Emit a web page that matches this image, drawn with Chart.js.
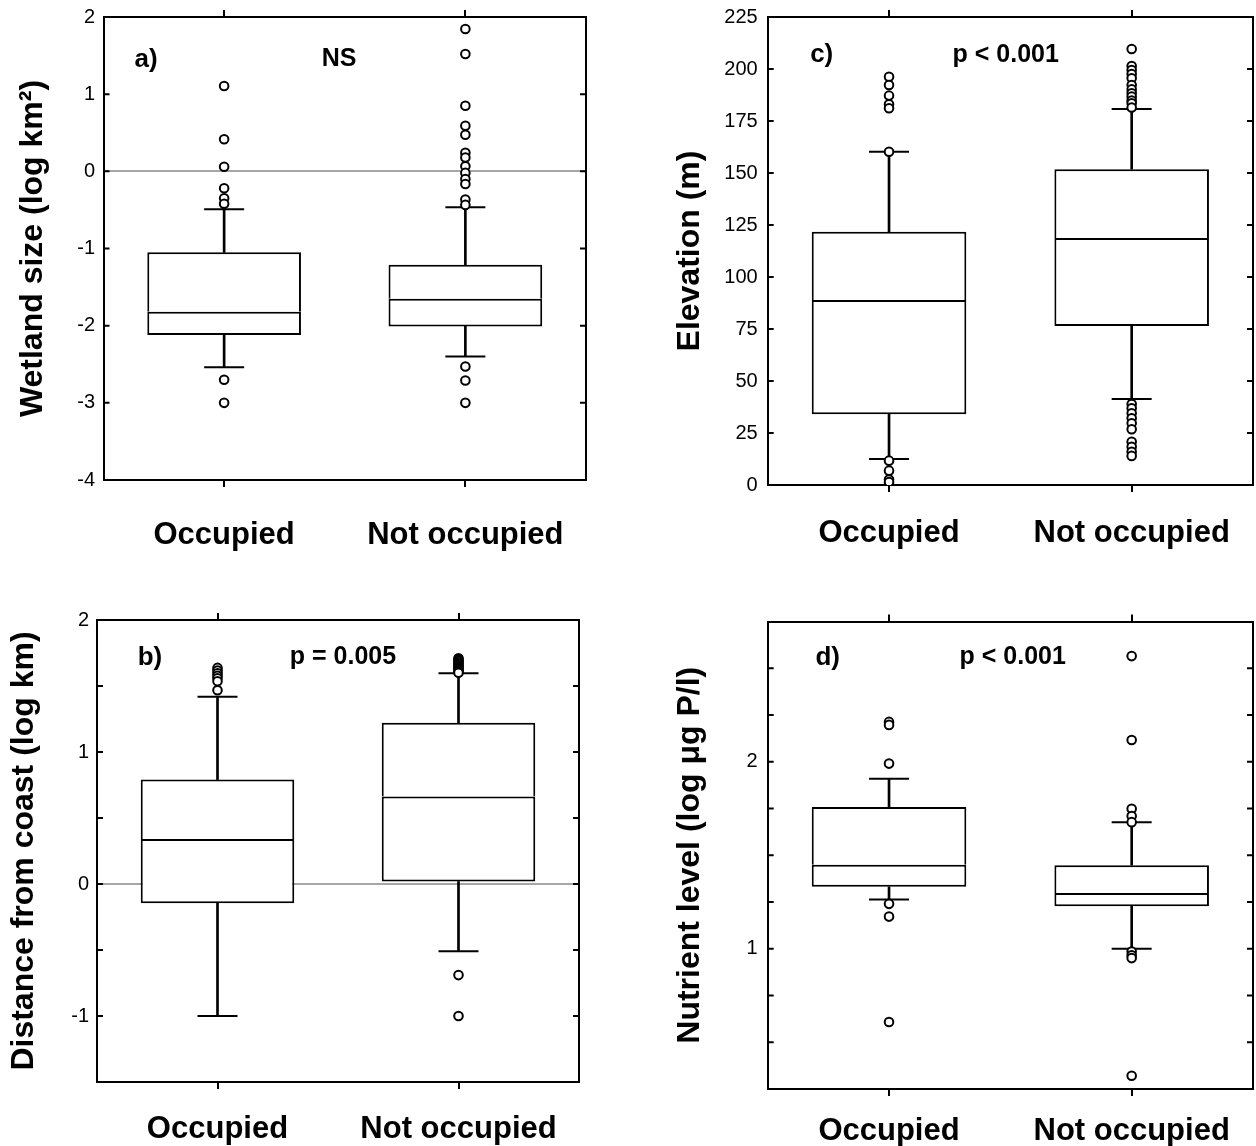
<!DOCTYPE html>
<html>
<head>
<meta charset="utf-8">
<script src="https://cdn.jsdelivr.net/npm/chart.js@4.4.0/dist/chart.umd.min.js"></script>
<style>
  html, body { margin: 0; padding: 0; background: #fff; }
  body { width: 1256px; height: 1146px; position: relative; overflow: hidden; }
  .p { position: absolute; }
  canvas { display: block; }
</style>
</head>
<body>
<div class="p" style="left:0;top:0;width:620px;height:580px"><canvas id="ca" width="620" height="580"></canvas></div>
<div class="p" style="left:640px;top:0;width:616px;height:580px"><canvas id="cc" width="616" height="580"></canvas></div>
<div class="p" style="left:0;top:580px;width:620px;height:566px"><canvas id="cb" width="620" height="566"></canvas></div>
<div class="p" style="left:640px;top:580px;width:616px;height:566px"><canvas id="cd" width="616" height="566"></canvas></div>
<script>
// ---------------- DATA ----------------
const categories = ['Occupied', 'Not occupied'];

// a) Wetland size (log km²)
const wetlandLow = [-2.54, -2.40];
const wetlandQ1 = [-2.12, -2.01];
const wetlandMedian = [-1.82, -1.65];
const wetlandQ3 = [-1.05, -1.21];
const wetlandHigh = [-0.49, -0.465];
const wetlandOutOccupied = [1.105, 0.415, 0.06, -0.22, -0.35, -0.42, -2.70, -3.00];
const wetlandOutNotOccupied = [1.845, 1.52, 0.85, 0.59, 0.475, 0.24, 0.18, 0.065, -0.02, -0.10, -0.165, -0.365, -0.435, -2.53, -2.71, -3.00];
const wetlandRange = [-4, 2, 1];
const wetlandTickLabels = ['-4', '-3', '-2', '-1', '0', '1', '2'];

// c) Elevation (m)
const elevLow = [12.5, 41.4];
const elevQ1 = [34.0, 76.4];
const elevMedian = [88.9, 118.8];
const elevQ3 = [121.7, 151.8];
const elevHigh = [160.2, 180.8];
const elevOutOccupied = [196.3, 192.3, 187.2, 183.0, 181.1, 160.2, 11.7, 6.9, 2.6, 1.4];
const elevOutNotOccupied = [209.6, 201.4, 199.5, 197.6, 195.5, 192.3, 190.2, 188.3, 186.7, 184.8, 183.5, 181.5,
  38.9, 36.9, 34.5, 32.1, 29.7, 26.8, 20.8, 18.4, 16.0, 14.0];
const elevRange = [0, 225, 25];
const elevTickLabels = ['0', '25', '50', '75', '100', '125', '150', '175', '200', '225'];

// b) Distance from coast (log km)
const coastLow = [-1.0, -0.51];
const coastQ1 = [-0.145, 0.019];
const coastMedian = [0.341, 0.663];
const coastQ3 = [0.791, 1.222];
const coastHigh = [1.419, 1.596];
const coastOutOccupied = [1.637, 1.617, 1.596, 1.577, 1.558, 1.536, 1.468];
const coastOutNotOccupied = [1.71, 1.70, 1.69, 1.68, 1.67, 1.66, 1.65, 1.64, 1.63, 1.62, 1.61, 1.60, -0.69, -1.0];
const coastRange = [-1.5, 2, 0.5];
const coastTickLabels = ['-1', '0', '1', '2'];

// d) Nutrient level (log µg P/l)
const nutLow = [1.263, 1.0];
const nutQ1 = [1.331, 1.227];
const nutMedian = [1.449, 1.298];
const nutQ3 = [1.758, 1.447];
const nutHigh = [1.909, 1.677];
const nutOutOccupied = [2.213, 2.197, 1.99, 1.24, 1.172, 0.608];
const nutOutNotOccupied = [2.565, 2.116, 1.749, 1.71, 1.677, 0.985, 0.965, 0.95, 0.321];
const nutRange = [0.25, 2.75, 0.25];
const nutTickLabels = ['1', '2'];

// ---------------- STYLE / LAYOUT ----------------
const FONT = "'Liberation Sans', Arial, Helvetica, sans-serif";
Chart.defaults.font.family = FONT;
Chart.defaults.color = '#000';

const framePlugin = {
  id: 'frameTicks',
  afterDraw(chart, args, opts) {
    const { ctx, chartArea: a } = chart;
    const y = chart.scales.y;
    ctx.save();
    ctx.strokeStyle = '#000';
    ctx.lineWidth = 2;
    y.ticks.forEach(t => {
      const py = y.getPixelForValue(t.value);
      if (py <= a.top + 2 || py >= a.bottom - 2) return;
      ctx.beginPath();
      ctx.moveTo(a.left, py); ctx.lineTo(a.left + 6, py);
      ctx.moveTo(a.right - 6, py); ctx.lineTo(a.right, py);
      ctx.stroke();
    });
    ctx.fillStyle = '#000';
    ctx.textAlign = 'center';
    ctx.textBaseline = 'middle';
    (opts.notes || []).forEach(n => {
      ctx.font = 'bold ' + n.size + 'px ' + FONT;
      ctx.fillText(n.text, a.left + n.dx, a.top + n.dy);
    });
    ctx.restore();
  }
};

function fmt(v) { return String(Number(v.toFixed(3))); }

function makePanel(canvasId, layout, d) {
  const [L, T, R, B] = layout.area;
  const canvas = document.getElementById(canvasId);
  const W = canvas.width, H = canvas.height;
  const caps = categories.flatMap((c, i) => [{ x: c, y: d.low[i] }, { x: c, y: d.high[i] }]);
  const outliers = [
    ...d.outOcc.map(v => ({ x: categories[0], y: v })),
    ...d.outNot.map(v => ({ x: categories[1], y: v }))
  ];
  const boxCommon = {
    type: 'bar', grouped: false, backgroundColor: '#fff', borderColor: '#000',
    borderSkipped: false, barPercentage: 0.637, categoryPercentage: 1, order: 3
  };
  const whiskerCommon = {
    type: 'bar', grouped: false, backgroundColor: '#000', borderWidth: 0, barThickness: 2, order: 4
  };
  const fixW = w => s => { s.width = w; s.paddingLeft = s.paddingRight = s.paddingTop = s.paddingBottom = 0; };
  const fixH = h => s => { s.height = h; s.paddingLeft = s.paddingRight = s.paddingTop = s.paddingBottom = 0; };
  const yRangeOpts = { min: d.range[0], max: d.range[1] };

  new Chart(canvas, {
    type: 'bar',
    data: {
      labels: categories,
      datasets: [
        Object.assign({}, whiskerCommon, { data: categories.map((c, i) => [d.low[i], d.q1[i]]) }),
        Object.assign({}, whiskerCommon, { data: categories.map((c, i) => [d.q3[i], d.high[i]]) }),
        Object.assign({}, boxCommon, { data: categories.map((c, i) => [d.q1[i], d.med[i]]),
          borderWidth: { top: 2, bottom: 2, left: 2, right: 2 } }),
        Object.assign({}, boxCommon, { data: categories.map((c, i) => [d.med[i], d.q3[i]]),
          borderWidth: { top: 2, bottom: 0, left: 2, right: 2 } }),
        { type: 'line', data: caps, showLine: false, pointStyle: 'line', pointRadius: 20,
          pointHoverRadius: 20, pointBorderColor: '#000', pointBorderWidth: 2, order: 2 },
        { type: 'line', data: outliers, showLine: false, pointStyle: 'circle', pointRadius: 4.3,
          pointHoverRadius: 4.3, pointBackgroundColor: '#fff', pointBorderColor: '#000',
          pointBorderWidth: 2, order: 1 }
      ]
    },
    options: {
      responsive: false,
      animation: false,
      events: [],
      layout: { autoPadding: false, padding: { left: 0, top: T, right: W - R, bottom: 0 } },
      plugins: {
        legend: { display: false },
        tooltip: { enabled: false },
        frameTicks: { notes: layout.notes }
      },
      scales: {
        x: {
          type: 'category', position: 'bottom', offset: true,
          grid: { drawOnChartArea: false, offset: false, tickLength: 7, color: '#000', lineWidth: 2 },
          border: { display: true, color: '#000', width: 2 },
          ticks: { font: { size: 31, weight: 'bold' }, padding: layout.xPad, maxRotation: 0, autoSkip: false, color: '#000' },
          afterFit: fixH(H - B)
        },
        x2: {
          type: 'category', position: 'top', offset: true, labels: categories,
          grid: { drawOnChartArea: false, offset: false, tickLength: 7, color: '#000', lineWidth: 2 },
          border: { display: true, color: '#000', width: 2 },
          ticks: { display: false },
          afterFit: fixH(0)
        },
        y: Object.assign({
          type: 'linear', position: 'left',
          grid: {
            drawTicks: false,
            display: !!layout.zeroLine,
            lineWidth: 2,
            color: c => (c.tick && Math.abs(c.tick.value) < 1e-9) ? '#a6a6a6' : 'rgba(0,0,0,0)'
          },
          border: { display: true, color: '#000', width: 2 },
          ticks: {
            stepSize: d.range[2], padding: layout.yPad, color: '#000',
            font: { size: 20 },
            callback: v => { const s = fmt(v); return d.tickLabels.includes(s) ? s : ''; }
          },
          title: {
            display: true, text: d.title, color: '#000',
            font: { size: 32, weight: 'bold', lineHeight: 1.2 },
            padding: { top: layout.titlePad, bottom: 0 }
          },
          afterFit: fixW(L)
        }, yRangeOpts),
        y2: Object.assign({
          type: 'linear', position: 'right',
          grid: { display: false, drawTicks: false },
          border: { display: true, color: '#000', width: 2 },
          ticks: { display: false, stepSize: d.range[2] },
          afterFit: fixW(0)
        }, yRangeOpts)
      }
    },
    plugins: [framePlugin]
  });
}

makePanel('ca',
  { area: [103.5, 17, 586, 480], xPad: 30, yPad: 8.5, titlePad: 14, zeroLine: true,
    notes: [{ text: 'a)', dx: 42.5, dy: 43, size: 26 }, { text: 'NS', dx: 235.5, dy: 42, size: 25 }] },
  { low: wetlandLow, q1: wetlandQ1, med: wetlandMedian, q3: wetlandQ3, high: wetlandHigh,
    outOcc: wetlandOutOccupied, outNot: wetlandOutNotOccupied, range: wetlandRange,
    tickLabels: wetlandTickLabels, title: 'Wetland size (log km²)' });

makePanel('cc',
  { area: [127.7, 17, 1253 - 640, 485], xPad: 23, yPad: 10, titlePad: 31, zeroLine: false,
    notes: [{ text: 'c)', dx: 54, dy: 38, size: 26 }, { text: 'p < 0.001', dx: 238, dy: 38, size: 25 }] },
  { low: elevLow, q1: elevQ1, med: elevMedian, q3: elevQ3, high: elevHigh,
    outOcc: elevOutOccupied, outNot: elevOutNotOccupied, range: elevRange,
    tickLabels: elevTickLabels, title: 'Elevation (m)' });

makePanel('cb',
  { area: [97, 40, 579, 502], xPad: 22, yPad: 8, titlePad: 5, zeroLine: true,
    notes: [{ text: 'b)', dx: 53, dy: 37.6, size: 26 }, { text: 'p = 0.005', dx: 246, dy: 37, size: 25 }] },
  { low: coastLow, q1: coastQ1, med: coastMedian, q3: coastQ3, high: coastHigh,
    outOcc: coastOutOccupied, outNot: coastOutNotOccupied, range: coastRange,
    tickLabels: coastTickLabels, title: 'Distance from coast (log km)' });

makePanel('cd',
  { area: [127.7, 41.5, 1253 - 640, 509], xPad: 17, yPad: 10, titlePad: 31, zeroLine: false,
    notes: [{ text: 'd)', dx: 60, dy: 36, size: 26 }, { text: 'p < 0.001', dx: 245, dy: 36, size: 25 }] },
  { low: nutLow, q1: nutQ1, med: nutMedian, q3: nutQ3, high: nutHigh,
    outOcc: nutOutOccupied, outNot: nutOutNotOccupied, range: nutRange,
    tickLabels: nutTickLabels, title: 'Nutrient level (log μg P/l)' });
</script>
</body>
</html>
